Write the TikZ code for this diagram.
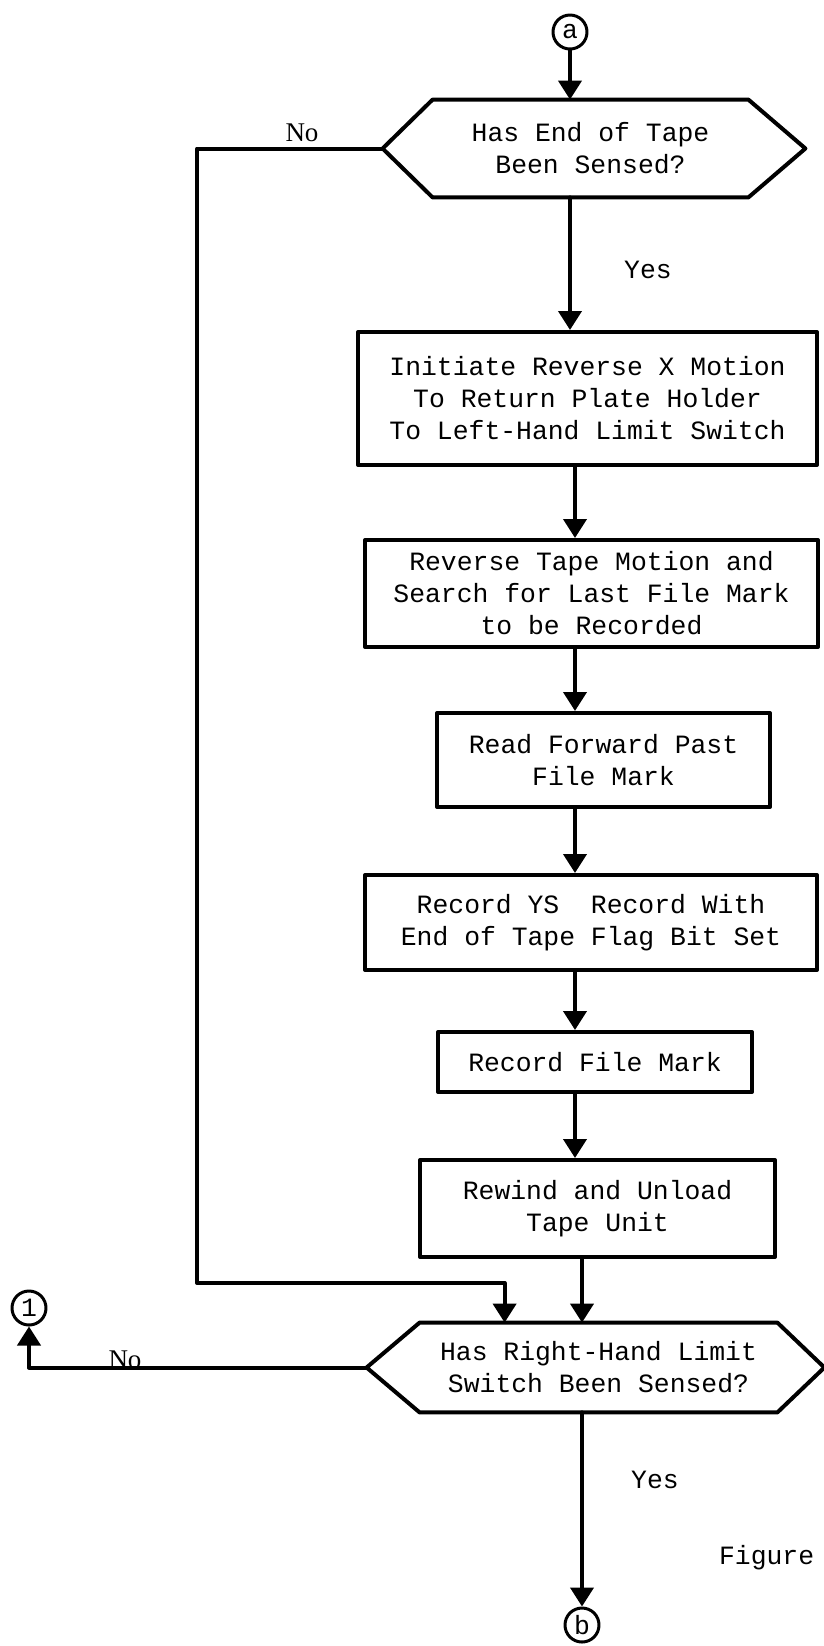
\documentclass[tikz,border=0pt]{standalone}
\usepackage{fontspec}
\setmonofont{Liberation Mono}
\newfontfamily\nofont{Liberation Serif}
\usetikzlibrary{calc,arrows.meta}

\begin{document}
\begin{tikzpicture}[x=0.5pt, y=-0.5pt, line cap=round, line join=round,
  font=\ttfamily\fontsize{13.2}{16}\selectfont,
  box/.style={draw, line width=2pt, align=center, inner sep=0pt},
  hexbox/.style={align=center, inner sep=0pt},
  conn/.style={draw, circle, line width=1.5pt, minimum size=17pt, inner sep=0pt},
  flow/.style={line width=2pt, -{Triangle[width=11.5pt,length=9.5pt]}},
  edge/.style={line width=2pt}]
  \def\u{0.5pt}   % one pixel of the page

  \useasboundingbox (0,0) rectangle (824,1646);

  % Connectors a, b, 1
  \node[conn] (a) at (570,32) {a};
  \node[conn] (b) at (582,1625) {b};
  \node[conn] (one) at (29,1308) {1};
  \coordinate (fx) at (575,0);

  % First test: end of tape
  \node[hexbox, minimum width=315*\u, minimum height=97*\u] (hex1) at (590.5,148.5)
    {Has End of Tape\\Been Sensed?};
  \draw[edge] (hex1.north west) -- (hex1.north east) -- ($(hex1.east)+(57,0)$)
    -- (hex1.south east) -- (hex1.south west) -- ($(hex1.west)+(-50,0)$) coordinate (hex1l) -- cycle;

  % Steps
  \node[box, minimum width=459*\u, minimum height=133*\u] (init) at (587.5,398.5)
    {Initiate Reverse X Motion\\To Return Plate Holder\\To Left-Hand Limit Switch};
  \node[box, minimum width=453*\u, minimum height=107*\u] (search) at (591.5,593.5)
    {Reverse Tape Motion and\\Search for Last File Mark\\to be Recorded};
  \node[box, minimum width=333*\u, minimum height=94*\u] (readfwd) at (603.5,760)
    {Read Forward Past\\File Mark};
  \node[box, minimum width=452*\u, minimum height=95*\u] (recys) at (591,922.5)
    {Record YS\ \ Record With\\End of Tape Flag Bit Set};
  \node[box, minimum width=314*\u, minimum height=60*\u] (recfm) at (595,1062)
    {Record File Mark};
  \node[box, minimum width=355*\u, minimum height=97*\u] (rewind) at (597.5,1208.5)
    {Rewind and Unload\\Tape Unit};

  % Second test: right-hand limit switch
  \node[hexbox, minimum width=357*\u, minimum height=89*\u] (hex2) at (598.5,1367.5)
    {Has Right-Hand Limit\\Switch Been Sensed?};
  \draw[edge] (hex2.north west) -- (hex2.north east) -- ($(hex2.east)+(47,0)$)
    -- (hex2.south east) -- (hex2.south west) -- ($(hex2.west)+(-53,0)$) coordinate (hex2l) -- cycle;

  % Main flow
  \draw[flow] (a) -- (a |- hex1.north);
  \draw[flow] (hex1.south -| a) -- (init.north -| a);
  \draw[flow] (init.south -| fx) -- (search.north -| fx);
  \draw[flow] (search.south -| fx) -- (readfwd.north -| fx);
  \draw[flow] (readfwd.south -| fx) -- (recys.north -| fx);
  \draw[flow] (recys.south -| fx) -- (recfm.north -| fx);
  \draw[flow] (recfm.south -| fx) -- (rewind.north -| fx);
  \draw[flow] (rewind.south -| b) -- (hex2.north -| b);
  \draw[flow] (hex2.south -| b) -- (b);

  % No branches
  \coordinate (nobend) at (197,1283);
  \draw[flow] (hex1l) -| (nobend) -| ($(hex2.north west)+(85,0)$);
  \draw[flow] (hex2l) -| (one);

  % Labels
  \node[font=\nofont\fontsize{13.5}{16}\selectfont] at (302,133) {No};
  \node[font=\nofont\fontsize{13.5}{16}\selectfont] at (125,1360) {No};
  \node at (648,270) {Yes};
  \node at (655,1480) {Yes};
  \node[anchor=west] at (712,1558) {Figure};
\end{tikzpicture}
\end{document}
